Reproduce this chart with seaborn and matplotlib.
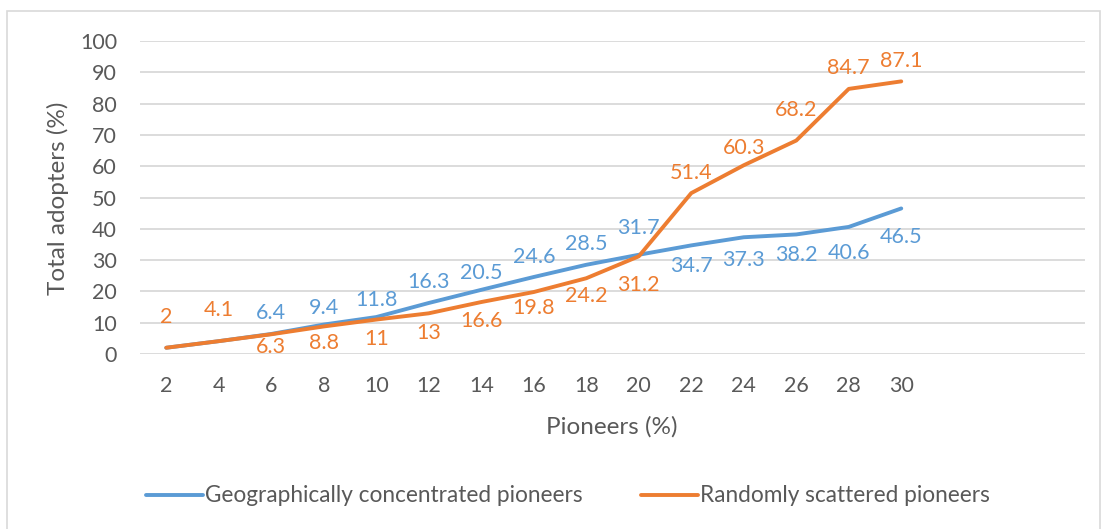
import matplotlib
matplotlib.use("Agg")
import matplotlib.pyplot as plt
from matplotlib.patches import Rectangle
import seaborn as sns
import pandas as pd

pioneers = [2, 4, 6, 8, 10, 12, 14, 16, 18, 20, 22, 24, 26, 28, 30]
concentrated = [2, 4.1, 6.4, 9.4, 11.8, 16.3, 20.5, 24.6, 28.5, 31.7, 34.7, 37.3, 38.2, 40.6, 46.5]
scattered = [2, 4.1, 6.3, 8.8, 11, 13, 16.6, 19.8, 24.2, 31.2, 51.4, 60.3, 68.2, 84.7, 87.1]
series_names = ["Geographically concentrated pioneers", "Randomly scattered pioneers"]
y_ticks = [0, 10, 20, 30, 40, 50, 60, 70, 80, 90, 100]

# label offsets in pixels (positive = above the point)
conc_label_dy = [None, None, 21, 17, 17, 21, 17, 20, 21, 27, -21, -23, -21, -26, -29]
scat_label_dy = [31, 31, -13, -17, -19, -20, -19, -16, -18, -29, 20, 17, 31, 21, 20]

BLUE = "#5B9BD5"
ORANGE = "#ED7D31"
TEXT = "#595959"
GRID = "#D9D9D9"

df = pd.DataFrame({
    "Pioneers": pioneers * 2,
    "Adopters": concentrated + scattered,
    "Series": [series_names[0]] * len(pioneers) + [series_names[1]] * len(pioneers),
})

sns.set_theme(style="white")
plt.rcParams["font.family"] = ["Lato", "DejaVu Sans"]

fig = plt.figure(figsize=(11.02, 5.29), dpi=100)
ax = fig.add_axes([140 / 1102, 1 - 354 / 529, (1085 - 140) / 1102, (354 - 41) / 529])

sns.lineplot(data=df, x="Pioneers", y="Adopters", hue="Series",
             palette=[BLUE, ORANGE], linewidth=2.8, ax=ax, legend=False,
             sort=False)
for ln in ax.get_lines():
    ln.set_solid_capstyle("round")
    ln.set_solid_joinstyle("round")

ax.set_xlim(1, 37)
ax.set_ylim(0, 100)
ax.set_xticks(pioneers)
ax.set_xticklabels([str(p) for p in pioneers])
ax.set_yticks(y_ticks)
ax.yaxis.grid(True, color=GRID, linewidth=1.3)
ax.xaxis.grid(False)
ax.set_axisbelow(True)
for s in ax.spines.values():
    s.set_visible(False)
ax.tick_params(axis="both", length=0, labelsize=15.5, colors=TEXT)
ax.tick_params(axis="y", pad=16.5)
ax.tick_params(axis="x", pad=16)

# axis titles placed in figure pixels
fig.text(58 / 1102, 1 - 198 / 529, "Total adopters (%)", rotation=90,
         ha="center", va="center", fontsize=17.5, color=TEXT)
fig.text(612 / 1102, 1 - 427 / 529, "Pioneers (%)",
         ha="center", va="center", fontsize=17.5, color=TEXT)
ax.set_xlabel("")
ax.set_ylabel("")

for xs, ys, dys, col in ((pioneers, concentrated, conc_label_dy, BLUE),
                         (pioneers, scattered, scat_label_dy, ORANGE)):
    for x, y, dy in zip(xs, ys, dys):
        if dy is None:
            continue
        ax.annotate(f"{y:g}", (x, y), xytext=(0, dy), textcoords="offset pixels",
                    ha="center", va="center", fontsize=15.5, color=col,
                    annotation_clip=False)

handles = [plt.Line2D([], [], color=BLUE, linewidth=2.8),
           plt.Line2D([], [], color=ORANGE, linewidth=2.8)]
fig.legend(handles, series_names, loc="center", bbox_to_anchor=(568 / 1102, 1 - 496 / 529),
           ncol=2, frameon=False, fontsize=16.3, labelcolor=TEXT,
           handlelength=2.5, handletextpad=0.1, columnspacing=2.6)

fig.patches.append(Rectangle((7 / 1102, -0.01), (1100 - 7) / 1102, 1 - 11 / 529 + 0.01,
                             transform=fig.transFigure, fill=False,
                             edgecolor="#D9D9D9", linewidth=1.2))

fig.savefig("out.png", dpi=100)
